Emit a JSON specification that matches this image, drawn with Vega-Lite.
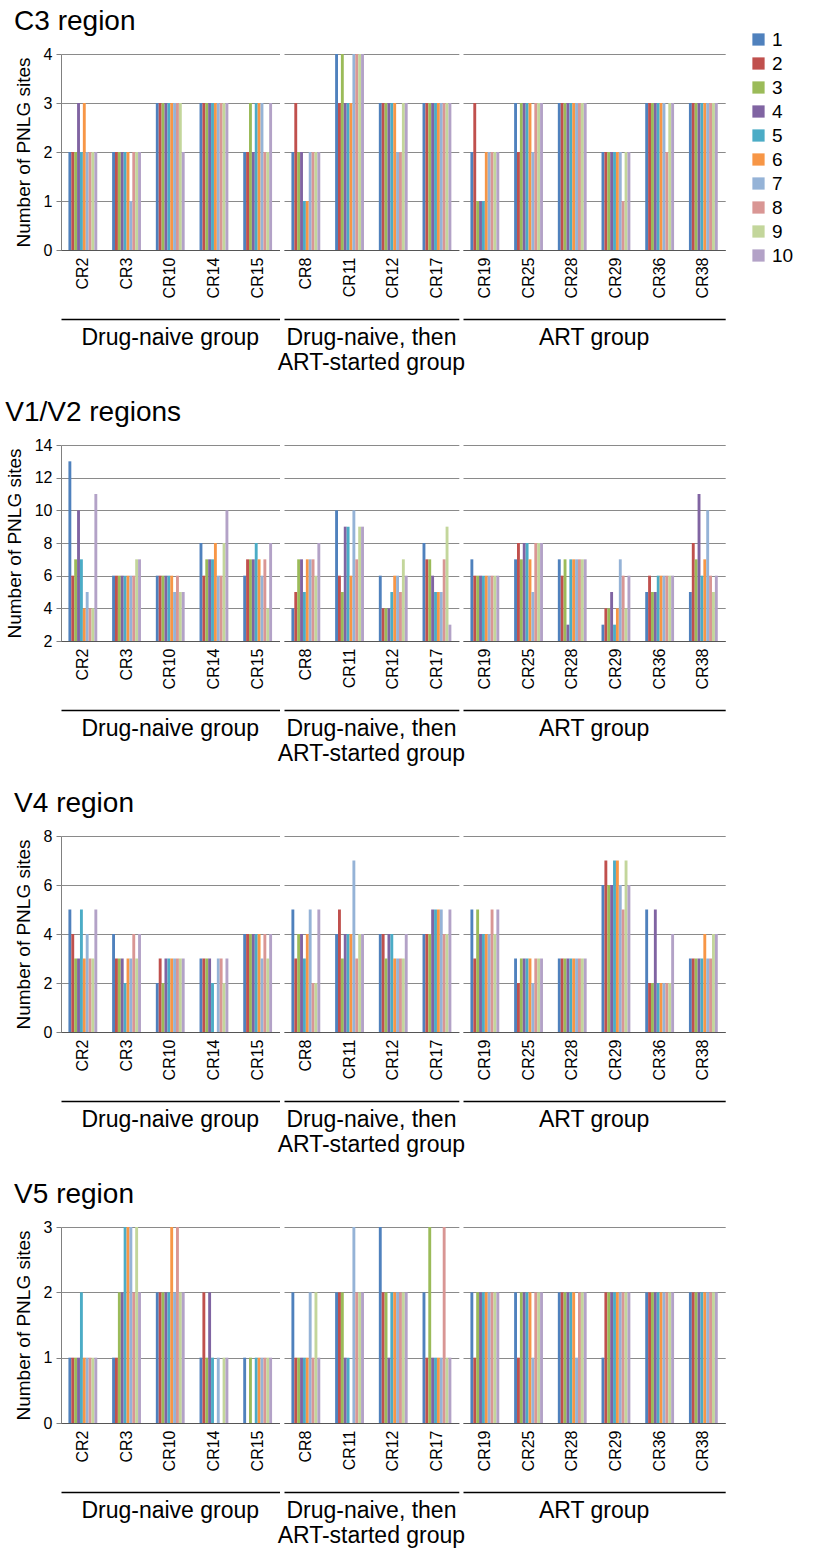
{
"$schema": "https://vega.github.io/schema/vega-lite/v6.json",
"padding": {"left": 5, "top": 8, "right": 5, "bottom": 3},
"datasets": {
"groups": [
{"p":"CR2","g":"Drug-naive group"},{"p":"CR3","g":"Drug-naive group"},{"p":"CR10","g":"Drug-naive group"},{"p":"CR14","g":"Drug-naive group"},{"p":"CR15","g":"Drug-naive group"},
{"p":"CR8","g":"Drug-naive, then|ART-started group"},{"p":"CR11","g":"Drug-naive, then|ART-started group"},{"p":"CR12","g":"Drug-naive, then|ART-started group"},{"p":"CR17","g":"Drug-naive, then|ART-started group"},
{"p":"CR19","g":"ART group"},{"p":"CR25","g":"ART group"},{"p":"CR28","g":"ART group"},{"p":"CR29","g":"ART group"},{"p":"CR36","g":"ART group"},{"p":"CR38","g":"ART group"}
],
"C3": [
{"p":"CR2","c":1,"v":2},{"p":"CR2","c":2,"v":2},{"p":"CR2","c":3,"v":2},{"p":"CR2","c":4,"v":3},{"p":"CR2","c":5,"v":2},{"p":"CR2","c":6,"v":3},{"p":"CR2","c":7,"v":2},{"p":"CR2","c":8,"v":2},{"p":"CR2","c":9,"v":2},{"p":"CR2","c":10,"v":2},
{"p":"CR3","c":1,"v":2},{"p":"CR3","c":2,"v":2},{"p":"CR3","c":3,"v":2},{"p":"CR3","c":4,"v":2},{"p":"CR3","c":5,"v":2},{"p":"CR3","c":6,"v":2},{"p":"CR3","c":7,"v":1},{"p":"CR3","c":8,"v":2},{"p":"CR3","c":9,"v":2},{"p":"CR3","c":10,"v":2},
{"p":"CR10","c":1,"v":3},{"p":"CR10","c":2,"v":3},{"p":"CR10","c":3,"v":3},{"p":"CR10","c":4,"v":3},{"p":"CR10","c":5,"v":3},{"p":"CR10","c":6,"v":3},{"p":"CR10","c":7,"v":3},{"p":"CR10","c":8,"v":3},{"p":"CR10","c":9,"v":3},{"p":"CR10","c":10,"v":2},
{"p":"CR14","c":1,"v":3},{"p":"CR14","c":2,"v":3},{"p":"CR14","c":3,"v":3},{"p":"CR14","c":4,"v":3},{"p":"CR14","c":5,"v":3},{"p":"CR14","c":6,"v":3},{"p":"CR14","c":7,"v":3},{"p":"CR14","c":8,"v":3},{"p":"CR14","c":9,"v":3},{"p":"CR14","c":10,"v":3},
{"p":"CR15","c":1,"v":2},{"p":"CR15","c":2,"v":2},{"p":"CR15","c":3,"v":3},{"p":"CR15","c":4,"v":2},{"p":"CR15","c":5,"v":3},{"p":"CR15","c":6,"v":3},{"p":"CR15","c":7,"v":3},{"p":"CR15","c":8,"v":2},{"p":"CR15","c":9,"v":2},{"p":"CR15","c":10,"v":3},
{"p":"CR8","c":1,"v":2},{"p":"CR8","c":2,"v":3},{"p":"CR8","c":3,"v":2},{"p":"CR8","c":4,"v":2},{"p":"CR8","c":5,"v":1},{"p":"CR8","c":6,"v":1},{"p":"CR8","c":7,"v":2},{"p":"CR8","c":8,"v":2},{"p":"CR8","c":9,"v":2},{"p":"CR8","c":10,"v":2},
{"p":"CR11","c":1,"v":4},{"p":"CR11","c":2,"v":3},{"p":"CR11","c":3,"v":4},{"p":"CR11","c":4,"v":3},{"p":"CR11","c":5,"v":3},{"p":"CR11","c":6,"v":3},{"p":"CR11","c":7,"v":4},{"p":"CR11","c":8,"v":4},{"p":"CR11","c":9,"v":4},{"p":"CR11","c":10,"v":4},
{"p":"CR12","c":1,"v":3},{"p":"CR12","c":2,"v":3},{"p":"CR12","c":3,"v":3},{"p":"CR12","c":4,"v":3},{"p":"CR12","c":5,"v":3},{"p":"CR12","c":6,"v":3},{"p":"CR12","c":7,"v":2},{"p":"CR12","c":8,"v":2},{"p":"CR12","c":9,"v":3},{"p":"CR12","c":10,"v":3},
{"p":"CR17","c":1,"v":3},{"p":"CR17","c":2,"v":3},{"p":"CR17","c":3,"v":3},{"p":"CR17","c":4,"v":3},{"p":"CR17","c":5,"v":3},{"p":"CR17","c":6,"v":3},{"p":"CR17","c":7,"v":3},{"p":"CR17","c":8,"v":3},{"p":"CR17","c":9,"v":3},{"p":"CR17","c":10,"v":3},
{"p":"CR19","c":1,"v":2},{"p":"CR19","c":2,"v":3},{"p":"CR19","c":3,"v":1},{"p":"CR19","c":4,"v":1},{"p":"CR19","c":5,"v":1},{"p":"CR19","c":6,"v":2},{"p":"CR19","c":7,"v":2},{"p":"CR19","c":8,"v":2},{"p":"CR19","c":9,"v":2},{"p":"CR19","c":10,"v":2},
{"p":"CR25","c":1,"v":3},{"p":"CR25","c":2,"v":2},{"p":"CR25","c":3,"v":3},{"p":"CR25","c":4,"v":3},{"p":"CR25","c":5,"v":3},{"p":"CR25","c":6,"v":3},{"p":"CR25","c":7,"v":2},{"p":"CR25","c":8,"v":3},{"p":"CR25","c":9,"v":3},{"p":"CR25","c":10,"v":3},
{"p":"CR28","c":1,"v":3},{"p":"CR28","c":2,"v":3},{"p":"CR28","c":3,"v":3},{"p":"CR28","c":4,"v":3},{"p":"CR28","c":5,"v":3},{"p":"CR28","c":6,"v":3},{"p":"CR28","c":7,"v":3},{"p":"CR28","c":8,"v":3},{"p":"CR28","c":9,"v":3},{"p":"CR28","c":10,"v":3},
{"p":"CR29","c":1,"v":2},{"p":"CR29","c":2,"v":2},{"p":"CR29","c":3,"v":2},{"p":"CR29","c":4,"v":2},{"p":"CR29","c":5,"v":2},{"p":"CR29","c":6,"v":2},{"p":"CR29","c":7,"v":2},{"p":"CR29","c":8,"v":1},{"p":"CR29","c":9,"v":2},{"p":"CR29","c":10,"v":2},
{"p":"CR36","c":1,"v":3},{"p":"CR36","c":2,"v":3},{"p":"CR36","c":3,"v":3},{"p":"CR36","c":4,"v":3},{"p":"CR36","c":5,"v":3},{"p":"CR36","c":6,"v":3},{"p":"CR36","c":7,"v":3},{"p":"CR36","c":8,"v":2},{"p":"CR36","c":9,"v":3},{"p":"CR36","c":10,"v":3},
{"p":"CR38","c":1,"v":3},{"p":"CR38","c":2,"v":3},{"p":"CR38","c":3,"v":3},{"p":"CR38","c":4,"v":3},{"p":"CR38","c":5,"v":3},{"p":"CR38","c":6,"v":3},{"p":"CR38","c":7,"v":3},{"p":"CR38","c":8,"v":3},{"p":"CR38","c":9,"v":3},{"p":"CR38","c":10,"v":3}
],
"V12": [
{"p":"CR2","c":1,"v":13},{"p":"CR2","c":2,"v":6},{"p":"CR2","c":3,"v":7},{"p":"CR2","c":4,"v":10},{"p":"CR2","c":5,"v":7},{"p":"CR2","c":6,"v":4},{"p":"CR2","c":7,"v":5},{"p":"CR2","c":8,"v":4},{"p":"CR2","c":9,"v":4},{"p":"CR2","c":10,"v":11},
{"p":"CR3","c":1,"v":6},{"p":"CR3","c":2,"v":6},{"p":"CR3","c":3,"v":6},{"p":"CR3","c":4,"v":6},{"p":"CR3","c":5,"v":6},{"p":"CR3","c":6,"v":6},{"p":"CR3","c":7,"v":6},{"p":"CR3","c":8,"v":6},{"p":"CR3","c":9,"v":7},{"p":"CR3","c":10,"v":7},
{"p":"CR10","c":1,"v":6},{"p":"CR10","c":2,"v":6},{"p":"CR10","c":3,"v":6},{"p":"CR10","c":4,"v":6},{"p":"CR10","c":5,"v":6},{"p":"CR10","c":6,"v":6},{"p":"CR10","c":7,"v":5},{"p":"CR10","c":8,"v":6},{"p":"CR10","c":9,"v":5},{"p":"CR10","c":10,"v":5},
{"p":"CR14","c":1,"v":8},{"p":"CR14","c":2,"v":6},{"p":"CR14","c":3,"v":7},{"p":"CR14","c":4,"v":7},{"p":"CR14","c":5,"v":7},{"p":"CR14","c":6,"v":8},{"p":"CR14","c":7,"v":6},{"p":"CR14","c":8,"v":6},{"p":"CR14","c":9,"v":8},{"p":"CR14","c":10,"v":10},
{"p":"CR15","c":1,"v":6},{"p":"CR15","c":2,"v":7},{"p":"CR15","c":3,"v":7},{"p":"CR15","c":4,"v":7},{"p":"CR15","c":5,"v":8},{"p":"CR15","c":6,"v":7},{"p":"CR15","c":7,"v":6},{"p":"CR15","c":8,"v":7},{"p":"CR15","c":9,"v":4},{"p":"CR15","c":10,"v":8},
{"p":"CR8","c":1,"v":4},{"p":"CR8","c":2,"v":5},{"p":"CR8","c":3,"v":7},{"p":"CR8","c":4,"v":7},{"p":"CR8","c":5,"v":5},{"p":"CR8","c":6,"v":7},{"p":"CR8","c":7,"v":7},{"p":"CR8","c":8,"v":7},{"p":"CR8","c":9,"v":6},{"p":"CR8","c":10,"v":8},
{"p":"CR11","c":1,"v":10},{"p":"CR11","c":2,"v":6},{"p":"CR11","c":3,"v":5},{"p":"CR11","c":4,"v":9},{"p":"CR11","c":5,"v":9},{"p":"CR11","c":6,"v":6},{"p":"CR11","c":7,"v":10},{"p":"CR11","c":8,"v":7},{"p":"CR11","c":9,"v":9},{"p":"CR11","c":10,"v":9},
{"p":"CR12","c":1,"v":6},{"p":"CR12","c":2,"v":4},{"p":"CR12","c":3,"v":4},{"p":"CR12","c":4,"v":4},{"p":"CR12","c":5,"v":5},{"p":"CR12","c":6,"v":6},{"p":"CR12","c":7,"v":6},{"p":"CR12","c":8,"v":5},{"p":"CR12","c":9,"v":7},{"p":"CR12","c":10,"v":6},
{"p":"CR17","c":1,"v":8},{"p":"CR17","c":2,"v":7},{"p":"CR17","c":3,"v":7},{"p":"CR17","c":4,"v":6},{"p":"CR17","c":5,"v":5},{"p":"CR17","c":6,"v":5},{"p":"CR17","c":7,"v":5},{"p":"CR17","c":8,"v":7},{"p":"CR17","c":9,"v":9},{"p":"CR17","c":10,"v":3},
{"p":"CR19","c":1,"v":7},{"p":"CR19","c":2,"v":6},{"p":"CR19","c":3,"v":6},{"p":"CR19","c":4,"v":6},{"p":"CR19","c":5,"v":6},{"p":"CR19","c":6,"v":6},{"p":"CR19","c":7,"v":6},{"p":"CR19","c":8,"v":6},{"p":"CR19","c":9,"v":6},{"p":"CR19","c":10,"v":6},
{"p":"CR25","c":1,"v":7},{"p":"CR25","c":2,"v":8},{"p":"CR25","c":3,"v":7},{"p":"CR25","c":4,"v":8},{"p":"CR25","c":5,"v":8},{"p":"CR25","c":6,"v":7},{"p":"CR25","c":7,"v":5},{"p":"CR25","c":8,"v":8},{"p":"CR25","c":9,"v":8},{"p":"CR25","c":10,"v":8},
{"p":"CR28","c":1,"v":7},{"p":"CR28","c":2,"v":6},{"p":"CR28","c":3,"v":7},{"p":"CR28","c":4,"v":3},{"p":"CR28","c":5,"v":7},{"p":"CR28","c":6,"v":7},{"p":"CR28","c":7,"v":7},{"p":"CR28","c":8,"v":7},{"p":"CR28","c":9,"v":7},{"p":"CR28","c":10,"v":7},
{"p":"CR29","c":1,"v":3},{"p":"CR29","c":2,"v":4},{"p":"CR29","c":3,"v":4},{"p":"CR29","c":4,"v":5},{"p":"CR29","c":5,"v":3},{"p":"CR29","c":6,"v":4},{"p":"CR29","c":7,"v":7},{"p":"CR29","c":8,"v":6},{"p":"CR29","c":9,"v":4},{"p":"CR29","c":10,"v":6},
{"p":"CR36","c":1,"v":5},{"p":"CR36","c":2,"v":6},{"p":"CR36","c":3,"v":5},{"p":"CR36","c":4,"v":5},{"p":"CR36","c":5,"v":6},{"p":"CR36","c":6,"v":6},{"p":"CR36","c":7,"v":6},{"p":"CR36","c":8,"v":6},{"p":"CR36","c":9,"v":6},{"p":"CR36","c":10,"v":6},
{"p":"CR38","c":1,"v":5},{"p":"CR38","c":2,"v":8},{"p":"CR38","c":3,"v":7},{"p":"CR38","c":4,"v":11},{"p":"CR38","c":5,"v":6},{"p":"CR38","c":6,"v":7},{"p":"CR38","c":7,"v":10},{"p":"CR38","c":8,"v":6},{"p":"CR38","c":9,"v":5},{"p":"CR38","c":10,"v":6}
],
"V4": [
{"p":"CR2","c":1,"v":5},{"p":"CR2","c":2,"v":4},{"p":"CR2","c":3,"v":3},{"p":"CR2","c":4,"v":3},{"p":"CR2","c":5,"v":5},{"p":"CR2","c":6,"v":3},{"p":"CR2","c":7,"v":4},{"p":"CR2","c":8,"v":3},{"p":"CR2","c":9,"v":3},{"p":"CR2","c":10,"v":5},
{"p":"CR3","c":1,"v":4},{"p":"CR3","c":2,"v":3},{"p":"CR3","c":3,"v":3},{"p":"CR3","c":4,"v":3},{"p":"CR3","c":5,"v":2},{"p":"CR3","c":6,"v":3},{"p":"CR3","c":7,"v":3},{"p":"CR3","c":8,"v":4},{"p":"CR3","c":9,"v":3},{"p":"CR3","c":10,"v":4},
{"p":"CR10","c":1,"v":2},{"p":"CR10","c":2,"v":3},{"p":"CR10","c":3,"v":2},{"p":"CR10","c":4,"v":3},{"p":"CR10","c":5,"v":3},{"p":"CR10","c":6,"v":3},{"p":"CR10","c":7,"v":3},{"p":"CR10","c":8,"v":3},{"p":"CR10","c":9,"v":3},{"p":"CR10","c":10,"v":3},
{"p":"CR14","c":1,"v":3},{"p":"CR14","c":2,"v":3},{"p":"CR14","c":3,"v":3},{"p":"CR14","c":4,"v":3},{"p":"CR14","c":5,"v":2},{"p":"CR14","c":6,"v":0},{"p":"CR14","c":7,"v":3},{"p":"CR14","c":8,"v":3},{"p":"CR14","c":9,"v":2},{"p":"CR14","c":10,"v":3},
{"p":"CR15","c":1,"v":4},{"p":"CR15","c":2,"v":4},{"p":"CR15","c":3,"v":4},{"p":"CR15","c":4,"v":4},{"p":"CR15","c":5,"v":4},{"p":"CR15","c":6,"v":4},{"p":"CR15","c":7,"v":3},{"p":"CR15","c":8,"v":4},{"p":"CR15","c":9,"v":3},{"p":"CR15","c":10,"v":4},
{"p":"CR8","c":1,"v":5},{"p":"CR8","c":2,"v":3},{"p":"CR8","c":3,"v":4},{"p":"CR8","c":4,"v":4},{"p":"CR8","c":5,"v":3},{"p":"CR8","c":6,"v":4},{"p":"CR8","c":7,"v":5},{"p":"CR8","c":8,"v":2},{"p":"CR8","c":9,"v":2},{"p":"CR8","c":10,"v":5},
{"p":"CR11","c":1,"v":4},{"p":"CR11","c":2,"v":5},{"p":"CR11","c":3,"v":3},{"p":"CR11","c":4,"v":4},{"p":"CR11","c":5,"v":4},{"p":"CR11","c":6,"v":4},{"p":"CR11","c":7,"v":7},{"p":"CR11","c":8,"v":3},{"p":"CR11","c":9,"v":4},{"p":"CR11","c":10,"v":4},
{"p":"CR12","c":1,"v":4},{"p":"CR12","c":2,"v":4},{"p":"CR12","c":3,"v":3},{"p":"CR12","c":4,"v":4},{"p":"CR12","c":5,"v":4},{"p":"CR12","c":6,"v":3},{"p":"CR12","c":7,"v":3},{"p":"CR12","c":8,"v":3},{"p":"CR12","c":9,"v":3},{"p":"CR12","c":10,"v":4},
{"p":"CR17","c":1,"v":4},{"p":"CR17","c":2,"v":4},{"p":"CR17","c":3,"v":4},{"p":"CR17","c":4,"v":5},{"p":"CR17","c":5,"v":5},{"p":"CR17","c":6,"v":5},{"p":"CR17","c":7,"v":5},{"p":"CR17","c":8,"v":4},{"p":"CR17","c":9,"v":4},{"p":"CR17","c":10,"v":5},
{"p":"CR19","c":1,"v":5},{"p":"CR19","c":2,"v":3},{"p":"CR19","c":3,"v":5},{"p":"CR19","c":4,"v":4},{"p":"CR19","c":5,"v":4},{"p":"CR19","c":6,"v":4},{"p":"CR19","c":7,"v":4},{"p":"CR19","c":8,"v":5},{"p":"CR19","c":9,"v":4},{"p":"CR19","c":10,"v":5},
{"p":"CR25","c":1,"v":3},{"p":"CR25","c":2,"v":2},{"p":"CR25","c":3,"v":3},{"p":"CR25","c":4,"v":3},{"p":"CR25","c":5,"v":3},{"p":"CR25","c":6,"v":3},{"p":"CR25","c":7,"v":2},{"p":"CR25","c":8,"v":3},{"p":"CR25","c":9,"v":3},{"p":"CR25","c":10,"v":3},
{"p":"CR28","c":1,"v":3},{"p":"CR28","c":2,"v":3},{"p":"CR28","c":3,"v":3},{"p":"CR28","c":4,"v":3},{"p":"CR28","c":5,"v":3},{"p":"CR28","c":6,"v":3},{"p":"CR28","c":7,"v":3},{"p":"CR28","c":8,"v":3},{"p":"CR28","c":9,"v":3},{"p":"CR28","c":10,"v":3},
{"p":"CR29","c":1,"v":6},{"p":"CR29","c":2,"v":7},{"p":"CR29","c":3,"v":6},{"p":"CR29","c":4,"v":6},{"p":"CR29","c":5,"v":7},{"p":"CR29","c":6,"v":7},{"p":"CR29","c":7,"v":6},{"p":"CR29","c":8,"v":5},{"p":"CR29","c":9,"v":7},{"p":"CR29","c":10,"v":6},
{"p":"CR36","c":1,"v":5},{"p":"CR36","c":2,"v":2},{"p":"CR36","c":3,"v":2},{"p":"CR36","c":4,"v":5},{"p":"CR36","c":5,"v":2},{"p":"CR36","c":6,"v":2},{"p":"CR36","c":7,"v":2},{"p":"CR36","c":8,"v":2},{"p":"CR36","c":9,"v":2},{"p":"CR36","c":10,"v":4},
{"p":"CR38","c":1,"v":3},{"p":"CR38","c":2,"v":3},{"p":"CR38","c":3,"v":3},{"p":"CR38","c":4,"v":3},{"p":"CR38","c":5,"v":3},{"p":"CR38","c":6,"v":4},{"p":"CR38","c":7,"v":3},{"p":"CR38","c":8,"v":3},{"p":"CR38","c":9,"v":4},{"p":"CR38","c":10,"v":4}
],
"V5": [
{"p":"CR2","c":1,"v":1},{"p":"CR2","c":2,"v":1},{"p":"CR2","c":3,"v":1},{"p":"CR2","c":4,"v":1},{"p":"CR2","c":5,"v":2},{"p":"CR2","c":6,"v":1},{"p":"CR2","c":7,"v":1},{"p":"CR2","c":8,"v":1},{"p":"CR2","c":9,"v":1},{"p":"CR2","c":10,"v":1},
{"p":"CR3","c":1,"v":1},{"p":"CR3","c":2,"v":1},{"p":"CR3","c":3,"v":2},{"p":"CR3","c":4,"v":2},{"p":"CR3","c":5,"v":3},{"p":"CR3","c":6,"v":3},{"p":"CR3","c":7,"v":3},{"p":"CR3","c":8,"v":2},{"p":"CR3","c":9,"v":3},{"p":"CR3","c":10,"v":2},
{"p":"CR10","c":1,"v":2},{"p":"CR10","c":2,"v":2},{"p":"CR10","c":3,"v":2},{"p":"CR10","c":4,"v":2},{"p":"CR10","c":5,"v":2},{"p":"CR10","c":6,"v":3},{"p":"CR10","c":7,"v":2},{"p":"CR10","c":8,"v":3},{"p":"CR10","c":9,"v":2},{"p":"CR10","c":10,"v":2},
{"p":"CR14","c":1,"v":1},{"p":"CR14","c":2,"v":2},{"p":"CR14","c":3,"v":1},{"p":"CR14","c":4,"v":2},{"p":"CR14","c":5,"v":1},{"p":"CR14","c":6,"v":0},{"p":"CR14","c":7,"v":1},{"p":"CR14","c":8,"v":0},{"p":"CR14","c":9,"v":1},{"p":"CR14","c":10,"v":1},
{"p":"CR15","c":1,"v":1},{"p":"CR15","c":2,"v":0},{"p":"CR15","c":3,"v":1},{"p":"CR15","c":4,"v":0},{"p":"CR15","c":5,"v":1},{"p":"CR15","c":6,"v":1},{"p":"CR15","c":7,"v":1},{"p":"CR15","c":8,"v":1},{"p":"CR15","c":9,"v":1},{"p":"CR15","c":10,"v":1},
{"p":"CR8","c":1,"v":2},{"p":"CR8","c":2,"v":1},{"p":"CR8","c":3,"v":1},{"p":"CR8","c":4,"v":1},{"p":"CR8","c":5,"v":1},{"p":"CR8","c":6,"v":1},{"p":"CR8","c":7,"v":2},{"p":"CR8","c":8,"v":1},{"p":"CR8","c":9,"v":2},{"p":"CR8","c":10,"v":1},
{"p":"CR11","c":1,"v":2},{"p":"CR11","c":2,"v":2},{"p":"CR11","c":3,"v":2},{"p":"CR11","c":4,"v":1},{"p":"CR11","c":5,"v":1},{"p":"CR11","c":6,"v":0},{"p":"CR11","c":7,"v":3},{"p":"CR11","c":8,"v":2},{"p":"CR11","c":9,"v":2},{"p":"CR11","c":10,"v":2},
{"p":"CR12","c":1,"v":3},{"p":"CR12","c":2,"v":2},{"p":"CR12","c":3,"v":2},{"p":"CR12","c":4,"v":1},{"p":"CR12","c":5,"v":2},{"p":"CR12","c":6,"v":2},{"p":"CR12","c":7,"v":2},{"p":"CR12","c":8,"v":2},{"p":"CR12","c":9,"v":2},{"p":"CR12","c":10,"v":2},
{"p":"CR17","c":1,"v":2},{"p":"CR17","c":2,"v":1},{"p":"CR17","c":3,"v":3},{"p":"CR17","c":4,"v":1},{"p":"CR17","c":5,"v":1},{"p":"CR17","c":6,"v":1},{"p":"CR17","c":7,"v":1},{"p":"CR17","c":8,"v":3},{"p":"CR17","c":9,"v":1},{"p":"CR17","c":10,"v":1},
{"p":"CR19","c":1,"v":2},{"p":"CR19","c":2,"v":1},{"p":"CR19","c":3,"v":2},{"p":"CR19","c":4,"v":2},{"p":"CR19","c":5,"v":2},{"p":"CR19","c":6,"v":2},{"p":"CR19","c":7,"v":2},{"p":"CR19","c":8,"v":2},{"p":"CR19","c":9,"v":2},{"p":"CR19","c":10,"v":2},
{"p":"CR25","c":1,"v":2},{"p":"CR25","c":2,"v":1},{"p":"CR25","c":3,"v":2},{"p":"CR25","c":4,"v":2},{"p":"CR25","c":5,"v":2},{"p":"CR25","c":6,"v":2},{"p":"CR25","c":7,"v":1},{"p":"CR25","c":8,"v":2},{"p":"CR25","c":9,"v":2},{"p":"CR25","c":10,"v":2},
{"p":"CR28","c":1,"v":2},{"p":"CR28","c":2,"v":2},{"p":"CR28","c":3,"v":2},{"p":"CR28","c":4,"v":2},{"p":"CR28","c":5,"v":2},{"p":"CR28","c":6,"v":2},{"p":"CR28","c":7,"v":1},{"p":"CR28","c":8,"v":2},{"p":"CR28","c":9,"v":2},{"p":"CR28","c":10,"v":2},
{"p":"CR29","c":1,"v":1},{"p":"CR29","c":2,"v":2},{"p":"CR29","c":3,"v":2},{"p":"CR29","c":4,"v":2},{"p":"CR29","c":5,"v":2},{"p":"CR29","c":6,"v":2},{"p":"CR29","c":7,"v":2},{"p":"CR29","c":8,"v":2},{"p":"CR29","c":9,"v":2},{"p":"CR29","c":10,"v":2},
{"p":"CR36","c":1,"v":2},{"p":"CR36","c":2,"v":2},{"p":"CR36","c":3,"v":2},{"p":"CR36","c":4,"v":2},{"p":"CR36","c":5,"v":2},{"p":"CR36","c":6,"v":2},{"p":"CR36","c":7,"v":2},{"p":"CR36","c":8,"v":2},{"p":"CR36","c":9,"v":2},{"p":"CR36","c":10,"v":2},
{"p":"CR38","c":1,"v":2},{"p":"CR38","c":2,"v":2},{"p":"CR38","c":3,"v":2},{"p":"CR38","c":4,"v":2},{"p":"CR38","c":5,"v":2},{"p":"CR38","c":6,"v":2},{"p":"CR38","c":7,"v":2},{"p":"CR38","c":8,"v":2},{"p":"CR38","c":9,"v":2},{"p":"CR38","c":10,"v":2}
]
},
"vconcat": [
{
"title": "C3 region",
"data": {"name": "C3"},
"transform": [{"lookup": "p", "from": {"data": {"name": "groups"}, "key": "p", "fields": ["g"]}}],
"facet": {"column": {"field": "g", "type": "nominal", "sort": ["Drug-naive group", "Drug-naive, then|ART-started group", "ART group"], "title": null, "header": {"labelOrient": "bottom", "labelExpr": "split(datum.value, '|')"}}},
"spacing": 4,
"resolve": {"scale": {"x": "independent", "xOffset": "independent"}},
"spec": {
"width": {"step": 43.7, "for": "position"}, "height": 196,
"layer": [
{"mark": {"type": "bar"},
"encoding": {
"x": {"field": "p", "type": "nominal", "sort": ["CR2","CR3","CR10","CR14","CR15","CR8","CR11","CR12","CR17","CR19","CR25","CR28","CR29","CR36","CR38"], "scale": {"paddingInner": 0.34, "paddingOuter": 0.17}, "axis": {"title": null, "labelAngle": 270, "labelAlign": "right", "labelBaseline": "middle", "ticks": false, "labelPadding": 7}},
"xOffset": {"field": "c", "type": "ordinal"},
"y": {"field": "v", "type": "quantitative", "scale": {"domain": [0, 4]}, "axis": {"values": [0,1,2,3,4], "title": "Number of PNLG sites"}},
"color": {"field": "c", "type": "ordinal", "scale": {"range": ["#4F81BD","#C0504D","#9BBB59","#8064A2","#4BACC6","#F79646","#95B3D7","#D99694","#C3D69B","#B3A2C7"]}, "legend": {"title": null, "orient": "none", "legendX": 688, "legendY": -24}}
}},
{"mark": {"type": "rule", "opacity": 0},
"encoding": {"x": {"field": "p", "type": "nominal", "sort": ["CR2","CR3","CR10","CR14","CR15","CR8","CR11","CR12","CR17","CR19","CR25","CR28","CR29","CR36","CR38"], "axis": {"orient": "bottom", "title": null, "labels": false, "ticks": false, "domainColor": "black", "domainWidth": 1.5, "offset": 69}}}}
],
"resolve": {"axis": {"x": "independent"}}
}
},
{
"title": "V1/V2 regions",
"data": {"name": "V12"},
"transform": [{"lookup": "p", "from": {"data": {"name": "groups"}, "key": "p", "fields": ["g"]}}],
"facet": {"column": {"field": "g", "type": "nominal", "sort": ["Drug-naive group", "Drug-naive, then|ART-started group", "ART group"], "title": null, "header": {"labelOrient": "bottom", "labelExpr": "split(datum.value, '|')"}}},
"spacing": 4,
"resolve": {"scale": {"x": "independent", "xOffset": "independent"}},
"spec": {
"width": {"step": 43.7, "for": "position"}, "height": 196,
"layer": [
{"mark": {"type": "bar"},
"encoding": {
"x": {"field": "p", "type": "nominal", "sort": ["CR2","CR3","CR10","CR14","CR15","CR8","CR11","CR12","CR17","CR19","CR25","CR28","CR29","CR36","CR38"], "scale": {"paddingInner": 0.34, "paddingOuter": 0.17}, "axis": {"title": null, "labelAngle": 270, "labelAlign": "right", "labelBaseline": "middle", "ticks": false, "labelPadding": 7}},
"xOffset": {"field": "c", "type": "ordinal"},
"y": {"field": "v", "type": "quantitative", "scale": {"domain": [2, 14]}, "axis": {"values": [2,4,6,8,10,12,14], "title": "Number of PNLG sites"}},
"y2": {"datum": 2},
"color": {"field": "c", "type": "ordinal", "scale": {"range": ["#4F81BD","#C0504D","#9BBB59","#8064A2","#4BACC6","#F79646","#95B3D7","#D99694","#C3D69B","#B3A2C7"]}, "legend": {"title": null, "orient": "none", "legendX": 688, "legendY": -24}}
}},
{"mark": {"type": "rule", "opacity": 0},
"encoding": {"x": {"field": "p", "type": "nominal", "sort": ["CR2","CR3","CR10","CR14","CR15","CR8","CR11","CR12","CR17","CR19","CR25","CR28","CR29","CR36","CR38"], "axis": {"orient": "bottom", "title": null, "labels": false, "ticks": false, "domainColor": "black", "domainWidth": 1.5, "offset": 69}}}}
],
"resolve": {"axis": {"x": "independent"}}
}
},
{
"title": "V4 region",
"data": {"name": "V4"},
"transform": [{"lookup": "p", "from": {"data": {"name": "groups"}, "key": "p", "fields": ["g"]}}],
"facet": {"column": {"field": "g", "type": "nominal", "sort": ["Drug-naive group", "Drug-naive, then|ART-started group", "ART group"], "title": null, "header": {"labelOrient": "bottom", "labelExpr": "split(datum.value, '|')"}}},
"spacing": 4,
"resolve": {"scale": {"x": "independent", "xOffset": "independent"}},
"spec": {
"width": {"step": 43.7, "for": "position"}, "height": 196,
"layer": [
{"mark": {"type": "bar"},
"encoding": {
"x": {"field": "p", "type": "nominal", "sort": ["CR2","CR3","CR10","CR14","CR15","CR8","CR11","CR12","CR17","CR19","CR25","CR28","CR29","CR36","CR38"], "scale": {"paddingInner": 0.34, "paddingOuter": 0.17}, "axis": {"title": null, "labelAngle": 270, "labelAlign": "right", "labelBaseline": "middle", "ticks": false, "labelPadding": 7}},
"xOffset": {"field": "c", "type": "ordinal"},
"y": {"field": "v", "type": "quantitative", "scale": {"domain": [0, 8]}, "axis": {"values": [0,2,4,6,8], "title": "Number of PNLG sites"}},
"color": {"field": "c", "type": "ordinal", "scale": {"range": ["#4F81BD","#C0504D","#9BBB59","#8064A2","#4BACC6","#F79646","#95B3D7","#D99694","#C3D69B","#B3A2C7"]}, "legend": {"title": null, "orient": "none", "legendX": 688, "legendY": -24}}
}},
{"mark": {"type": "rule", "opacity": 0},
"encoding": {"x": {"field": "p", "type": "nominal", "sort": ["CR2","CR3","CR10","CR14","CR15","CR8","CR11","CR12","CR17","CR19","CR25","CR28","CR29","CR36","CR38"], "axis": {"orient": "bottom", "title": null, "labels": false, "ticks": false, "domainColor": "black", "domainWidth": 1.5, "offset": 69}}}}
],
"resolve": {"axis": {"x": "independent"}}
}
},
{
"title": "V5 region",
"data": {"name": "V5"},
"transform": [{"lookup": "p", "from": {"data": {"name": "groups"}, "key": "p", "fields": ["g"]}}],
"facet": {"column": {"field": "g", "type": "nominal", "sort": ["Drug-naive group", "Drug-naive, then|ART-started group", "ART group"], "title": null, "header": {"labelOrient": "bottom", "labelExpr": "split(datum.value, '|')"}}},
"spacing": 4,
"resolve": {"scale": {"x": "independent", "xOffset": "independent"}},
"spec": {
"width": {"step": 43.7, "for": "position"}, "height": 196,
"layer": [
{"mark": {"type": "bar"},
"encoding": {
"x": {"field": "p", "type": "nominal", "sort": ["CR2","CR3","CR10","CR14","CR15","CR8","CR11","CR12","CR17","CR19","CR25","CR28","CR29","CR36","CR38"], "scale": {"paddingInner": 0.34, "paddingOuter": 0.17}, "axis": {"title": null, "labelAngle": 270, "labelAlign": "right", "labelBaseline": "middle", "ticks": false, "labelPadding": 7}},
"xOffset": {"field": "c", "type": "ordinal"},
"y": {"field": "v", "type": "quantitative", "scale": {"domain": [0, 3]}, "axis": {"values": [0,1,2,3], "title": "Number of PNLG sites"}},
"color": {"field": "c", "type": "ordinal", "scale": {"range": ["#4F81BD","#C0504D","#9BBB59","#8064A2","#4BACC6","#F79646","#95B3D7","#D99694","#C3D69B","#B3A2C7"]}, "legend": {"title": null, "orient": "none", "legendX": 688, "legendY": -24}}
}},
{"mark": {"type": "rule", "opacity": 0},
"encoding": {"x": {"field": "p", "type": "nominal", "sort": ["CR2","CR3","CR10","CR14","CR15","CR8","CR11","CR12","CR17","CR19","CR25","CR28","CR29","CR36","CR38"], "axis": {"orient": "bottom", "title": null, "labels": false, "ticks": false, "domainColor": "black", "domainWidth": 1.5, "offset": 69}}}}
],
"resolve": {"axis": {"x": "independent"}}
}
}
],
"resolve": {"scale": {"color": "shared"}},
"config": {
"font": "Liberation Sans",
"view": {"stroke": null},
"concat": {"spacing": 24},
"title": {"fontSize": 28, "fontWeight": "normal", "anchor": "start", "color": "black", "offset": 10},
"axis": {"labelColor": "black", "titleColor": "black", "labelFontSize": 16, "titleFontSize": 19, "titleFontWeight": "normal", "domainColor": "#555555", "tickColor": "#808080", "gridColor": "#8a8a8a", "gridOpacity": 1},
"axisX": {"grid": false, "labelFontSize": 16},
"axisY": {"grid": true, "labelFontSize": 16, "tickSize": 5, "labelPadding": 4, "titlePadding": 10, "domainColor": "#808080"},
"header": {"labelFontSize": 23, "labelColor": "black", "labelPadding": 8, "labelLineHeight": 25},
"legend": {"symbolType": "square", "symbolSize": 150, "labelFontSize": 19, "rowPadding": 4, "labelColor": "black", "symbolStrokeWidth": 0}
}
}
